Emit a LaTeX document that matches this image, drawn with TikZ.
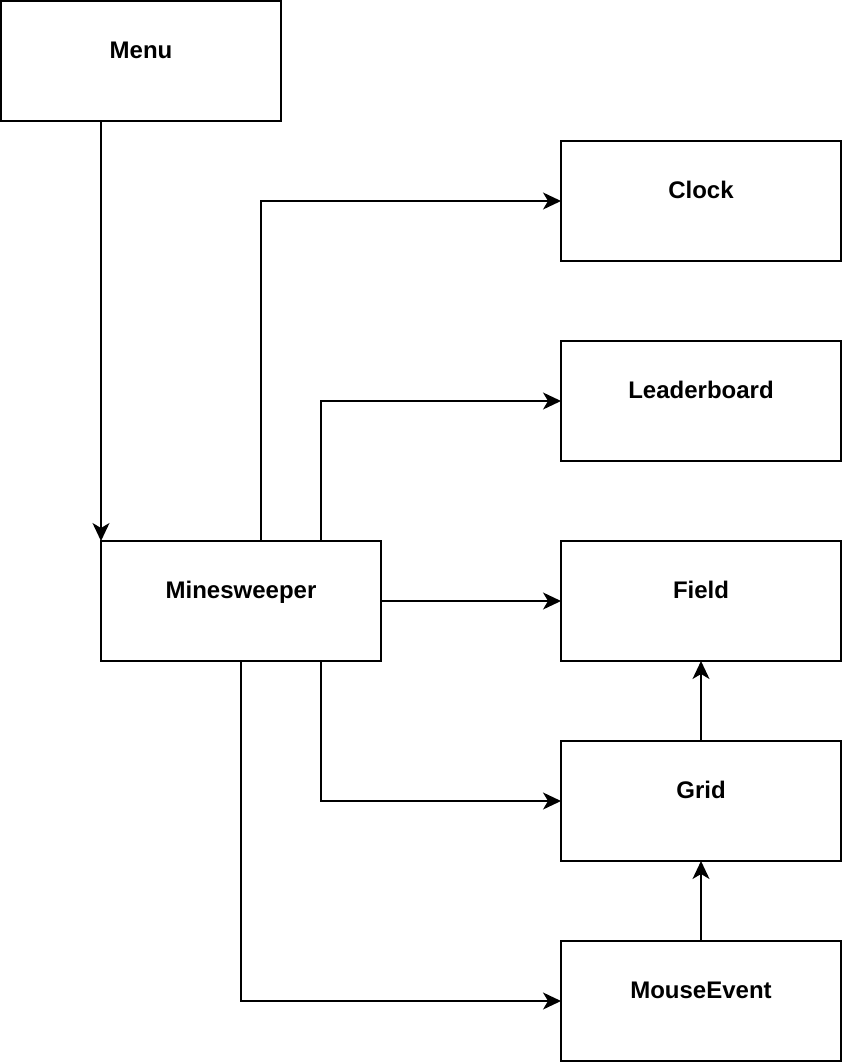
\documentclass[tikz,border=0pt]{standalone}
\usepackage{fontspec}
\setmainfont{Liberation Sans}
\usetikzlibrary{
    arrows.meta,
    positioning
}

\begin{document}
\begin{tikzpicture}[
    x=1pt, y=-1pt,
    node distance=80pt,
    block/.style={rectangle, minimum width=280pt, minimum height=120pt,
                  draw=black, line width=1.5pt, outer sep=0pt,
                  font=\fontsize{24}{28}\selectfont\bfseries,
                  text height=18pt, text depth=23pt, text centered},
    arrow/.style={-{Stealth[length=18pt,width=17pt,inset=5pt]}, line width=1.5pt}
]
    \useasboundingbox (0,0) rectangle (842,1062);

    \node (menu) [block] at (141,61) {Menu};
    \node (clock) [block] at (701,201) {Clock};
    \node (leader) [block, below=of clock] {Leaderboard};
    \node (field) [block, below=of leader] {Field};
    \node (grid) [block, below=of field] {Grid};
    \node (mouse) [block, below=of grid] {MouseEvent};
    \node (mines) [block, left=180pt of field] {Minesweeper};

    \draw [arrow] (mines.north west |- menu.south) -- (mines.north west);
    \draw [arrow] ([xshift=20pt]mines.north) |- (clock.west);
    \draw [arrow] ([xshift=80pt]mines.north) |- (leader.west);
    \draw [arrow] (mines) -- (field);
    \draw [arrow] ([xshift=80pt]mines.south) |- (grid.west);
    \draw [arrow] (mines.south) |- (mouse.west);
    \draw [arrow] (grid) -- (field);
    \draw [arrow] (mouse) -- (grid);

\end{tikzpicture}
\end{document}
